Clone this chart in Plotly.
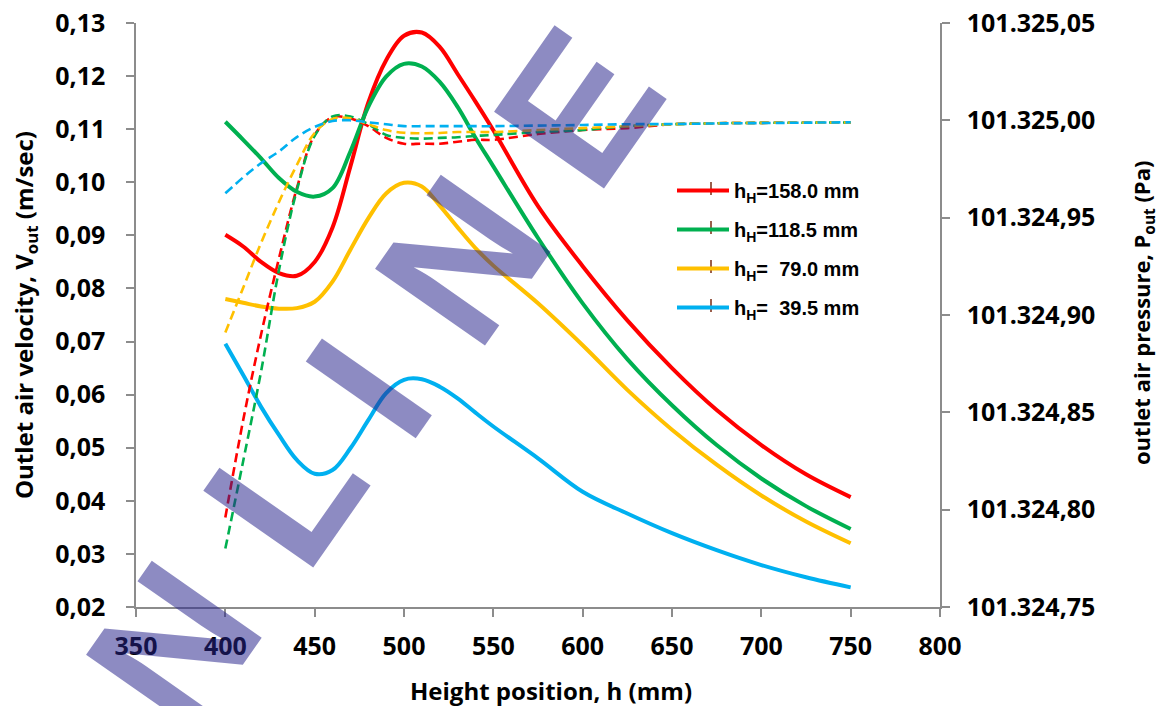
import plotly.graph_objects as go

# ---- data ----
h = [400, 410, 420, 430, 440, 450, 460, 470, 480, 490, 500, 510, 520, 530, 540, 550,
     575, 600, 625, 650, 675, 700, 725, 750]

v_158 = [0.0901, 0.0879, 0.0850, 0.0829, 0.0824, 0.0850, 0.0915, 0.1030, 0.1150, 0.1230,
         0.1276, 0.1282, 0.1255, 0.1204, 0.1152, 0.1098, 0.0955, 0.0842, 0.0740, 0.0650,
         0.0571, 0.0505, 0.0450, 0.0407]
v_118 = [0.1114, 0.1080, 0.1045, 0.1008, 0.0982, 0.0973, 0.0989, 0.1058, 0.1142, 0.1199,
         0.1223, 0.1218, 0.1189, 0.1142, 0.1084, 0.1030, 0.0895, 0.0772, 0.0667, 0.0580,
         0.0505, 0.0442, 0.0390, 0.0347]
v_79 = [0.0780, 0.0773, 0.0766, 0.0762, 0.0763, 0.0775, 0.0813, 0.0873, 0.0932, 0.0979,
        0.0999, 0.0992, 0.0956, 0.0915, 0.0876, 0.0843, 0.0772, 0.0693, 0.0609, 0.0534,
        0.0468, 0.0410, 0.0361, 0.0320]
v_39 = [0.0696, 0.0637, 0.0577, 0.0524, 0.0477, 0.0451, 0.0458, 0.0499, 0.0552, 0.0603,
        0.0628, 0.0629, 0.0615, 0.0593, 0.0566, 0.0540, 0.0480, 0.0417, 0.0376, 0.0339,
        0.0307, 0.0279, 0.0256, 0.0237]

p_158 = [101324.796, 101324.846, 101324.890, 101324.929, 101324.965, 101324.9925, 101325.0016,
         101325.001, 101324.997, 101324.991, 101324.988, 101324.988, 101324.988, 101324.989,
         101324.990, 101324.990, 101324.993, 101324.995, 101324.996, 101324.998, 101324.9985,
         101324.9987, 101324.9988, 101324.9989]
p_118 = [101324.780, 101324.825, 101324.871, 101324.923, 101324.964, 101324.992, 101325.002,
         101325.002, 101324.998, 101324.9925, 101324.991, 101324.9906, 101324.991, 101324.9913,
         101324.992, 101324.9925, 101324.994, 101324.995, 101324.997, 101324.998, 101324.9985,
         101324.9987, 101324.9988, 101324.9989]
p_79 = [101324.891, 101324.914, 101324.937, 101324.958, 101324.977, 101324.9935, 101325.0007,
        101325.001, 101324.998, 101324.995, 101324.9936, 101324.9934, 101324.9935, 101324.994,
        101324.994, 101324.994, 101324.995, 101324.996, 101324.997, 101324.998, 101324.9985,
        101324.9987, 101324.9988, 101324.9989]
p_39 = [101324.9625, 101324.9707, 101324.978, 101324.984, 101324.9914, 101324.9966, 101324.9997,
        101325.000, 101324.999, 101324.998, 101324.997, 101324.997, 101324.997, 101324.997,
        101324.997, 101324.997, 101324.9973, 101324.9976, 101324.998, 101324.9981, 101324.9984,
        101324.9986, 101324.9988, 101324.9990]

names = ["h<sub>H</sub>=158.0 mm", "h<sub>H</sub>=118.5 mm",
         "h<sub>H</sub>=\u00a0\u00a079.0 mm", "h<sub>H</sub>=\u00a0\u00a039.5 mm"]
colors = ["#FF0000", "#00B050", "#FFC000", "#00B0F0"]
velocity = [v_158, v_118, v_79, v_39]
pressure = [p_158, p_118, p_79, p_39]

watermark = ["N", "L", "I", "N", "E"]

# ---- layout geometry (pixels) ----
W, H = 1159, 706
L, R, T, B = 136, 940, 23, 607


def px(x):
    return (x - L) / (R - L)


def py(y):
    return (B - y) / (B - T)


fig = go.Figure()
for i in range(4):
    g = "g%d" % i
    fig.add_trace(go.Scatter(
        x=h, y=velocity[i], name=names[i], mode="lines",
        line=dict(color=colors[i], width=4, shape="spline", smoothing=1.0),
        legendgroup=g, showlegend=True, yaxis="y"))
    fig.add_trace(go.Scatter(
        x=h, y=pressure[i], name=names[i] + " P", mode="lines",
        line=dict(color=colors[i], width=2.6, dash="9px,5px", shape="spline", smoothing=1.0),
        legendgroup=g, showlegend=False, yaxis="y2"))

axis_col = "#8c8c8c"
tick_font = dict(family="Open Sans", size=25, color="black", weight="bold")

annotations = [
    dict(text="Height position, h (mm)", x=px(551), y=py(690), xref="paper", yref="paper",
         showarrow=False, font=dict(family="Open Sans", size=24, color="black", weight="bold"),
         xanchor="center", yanchor="middle"),
    dict(text="Outlet air velocity, V<sub>out</sub> (m/sec)", x=px(25), y=py(315),
         xref="paper", yref="paper", showarrow=False,
         font=dict(family="Open Sans", size=24, color="black", weight="bold"), textangle=-90,
         xanchor="center", yanchor="middle"),
    dict(text="outlet air pressure, P<sub>out</sub> (Pa)", x=px(1143), y=py(313),
         xref="paper", yref="paper", showarrow=False,
         font=dict(family="Open Sans", size=22, color="black", weight="bold"), textangle=-90,
         xanchor="center", yanchor="middle"),
]

wm_pos = [(173, 646), (284, 491), (368, 388), (462, 260), (578, 107)]
for letter, (cx, cy) in zip(watermark, wm_pos):
    annotations.append(dict(
        text=letter, x=px(cx), y=py(cy), xref="paper", yref="paper", showarrow=False,
        textangle=-55, xanchor="center", yanchor="middle",
        font=dict(family="Liberation Sans", size=195, color="rgba(40,35,140,0.53)",
                  weight="bold")))

# small dark marks that follow each legend line in the reference
shapes = []
for yl in [190, 229, 268, 307]:
    shapes.append(dict(type="line", xref="paper", yref="paper",
                       x0=px(711), x1=px(711), y0=py(yl - 8), y1=py(yl + 5),
                       line=dict(color="#7a2a10", width=1.5)))

fig.update_layout(
    width=W, height=H,
    margin=dict(l=L, r=W - R, t=T, b=H - B, pad=0, autoexpand=False),
    paper_bgcolor="white", plot_bgcolor="white",
    separators=",.",
    font=dict(family="Open Sans", color="black"),
    xaxis=dict(range=[350, 800], dtick=50, tick0=350, showgrid=False, zeroline=False,
               showline=True, linecolor=axis_col, linewidth=1.5, automargin=False,
               ticks="outside", ticklen=8, tickcolor=axis_col, tickwidth=1.5,
               tickfont=tick_font, ticklabelstandoff=8),
    yaxis=dict(range=[0.02, 0.13], dtick=0.01, tick0=0.02, tickformat=".2f",
               showgrid=False, zeroline=False, showline=True, linecolor=axis_col,
               linewidth=1.5, ticks="outside", ticklen=8, tickcolor=axis_col, tickwidth=1.5,
               tickfont=tick_font, ticklabelstandoff=16, automargin=False),
    yaxis2=dict(range=[101324.75, 101325.05], dtick=0.05, tick0=101324.75,
                tickformat=",.2f", overlaying="y", side="right", anchor="x",
                showgrid=False, zeroline=False, showline=True, linecolor=axis_col,
                linewidth=1.5, ticks="outside", ticklen=8, tickcolor=axis_col, tickwidth=1.5,
                tickfont=tick_font, ticklabelstandoff=12, automargin=False),
    legend=dict(x=px(672), y=py(171), xanchor="left", yanchor="top",
                bgcolor="rgba(0,0,0,0)", borderwidth=0,
                font=dict(family="Liberation Sans", size=20, color="black", weight="bold"),
                traceorder="grouped", tracegroupgap=10, itemwidth=52),
    annotations=annotations,
    shapes=shapes,
)

fig.write_html("out.html")
